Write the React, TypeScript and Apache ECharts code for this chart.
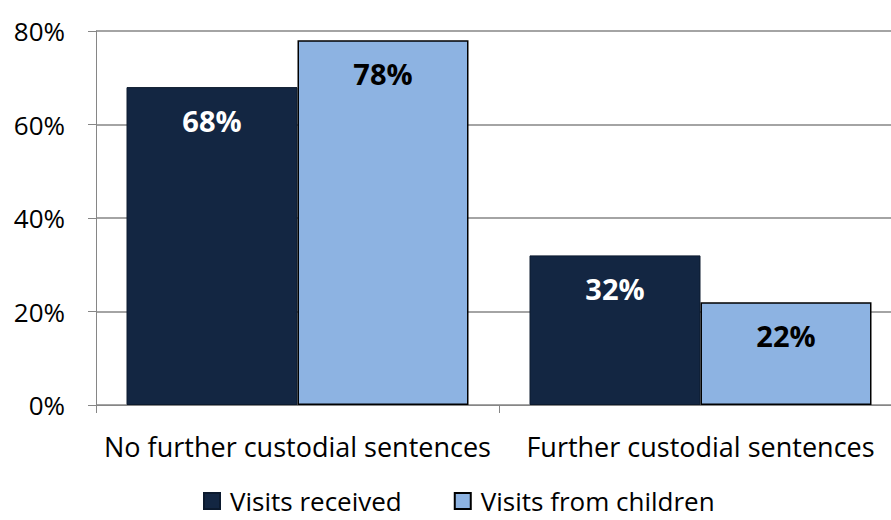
import React, { useEffect, useRef } from "react";
import * as echarts from "echarts";

const categories = ["No further custodial sentences", "Further custodial sentences"];
const seriesNames = ["Visits received", "Visits from children"];
const visitsReceived = [68, 32];
const visitsFromChildren = [78, 22];
const yTicks = [0, 20, 40, 60, 80];

const FONT = "'Open Sans', sans-serif";

export default function App() {
  const ref = useRef<HTMLDivElement>(null);
  useEffect(() => {
    const chart = echarts.init(ref.current!, null, { renderer: "svg" });
    const labelBase = {
      show: true,
      position: "insideTop" as const,
      distance: 19,
      fontSize: 29,
      fontWeight: "bold" as const,
      fontFamily: FONT,
      formatter: "{c}%",
    };
    chart.setOption({
      animation: false,
      backgroundColor: "#ffffff",
      grid: { left: 96, right: 0, top: 31, bottom: 115, containLabel: false },
      legend: {
        top: 486,
        left: 203,
        padding: 0,
        itemWidth: 16,
        itemHeight: 16,
        itemGap: 52,
        icon: "rect",
        textStyle: {
          fontSize: 26,
          lineHeight: 30,
          fontFamily: FONT,
          color: "#000",
          padding: [0, 0, 0, 5],
        },
        data: seriesNames,
      },
      xAxis: {
        type: "category",
        data: categories,
        axisLine: { lineStyle: { color: "#868686", width: 1 } },
        axisTick: { show: true, length: 8, lineStyle: { color: "#868686" } },
        axisLabel: { fontSize: 27, fontFamily: FONT, color: "#000", margin: 28, interval: 0 },
      },
      yAxis: {
        type: "value",
        min: yTicks[0],
        max: yTicks[yTicks.length - 1],
        interval: 20,
        axisLine: { show: true, lineStyle: { color: "#868686", width: 1 } },
        axisTick: { show: true, length: 8, lineStyle: { color: "#868686" } },
        splitLine: { show: true, lineStyle: { color: "#868686", width: 1.5 } },
        axisLabel: { fontSize: 26, fontFamily: FONT, color: "#000", margin: 31, formatter: "{value}%" },
      },
      series: [
        {
          name: seriesNames[0],
          type: "bar",
          data: visitsReceived,
          barWidth: 171,
          barGap: "0%",
          itemStyle: { color: "#132642", borderColor: "#0c1a2e", borderWidth: 1 },
          label: { ...labelBase, color: "#ffffff" },
        },
        {
          name: seriesNames[1],
          type: "bar",
          data: visitsFromChildren,
          barWidth: 171,
          barGap: "0%",
          itemStyle: { color: "#8db3e2", borderColor: "#000000", borderWidth: 1.5 },
          label: { ...labelBase, color: "#000000" },
        },
      ],
    });
    return () => chart.dispose();
  }, []);
  return (
    <div
      ref={ref}
      style={{ position: "fixed", left: 0, top: 0, width: 902, height: 520, background: "#fff" }}
    />
  );
}
